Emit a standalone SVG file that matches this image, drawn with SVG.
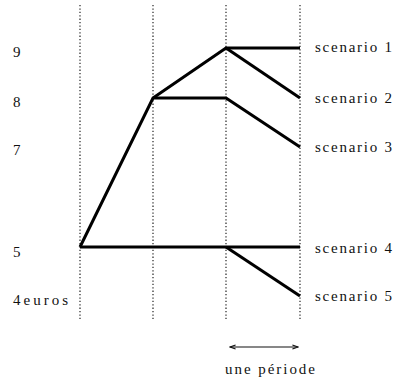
<svg xmlns="http://www.w3.org/2000/svg" width="397" height="380" viewBox="0 0 397 380">
<style>
.grid{stroke:#222;stroke-width:1.2;stroke-dasharray:1.3 2.1;fill:none}
.path{stroke:#000;stroke-width:3;fill:none;stroke-linejoin:miter;stroke-linecap:butt}
.arr{stroke:#111;stroke-width:1.2;fill:none}
.lbl{font-family:"Liberation Serif","Times New Roman","DejaVu Serif",serif;font-size:15px;fill:#111}
</style>
<defs>
<marker id="ah" viewBox="0 0 10 10" refX="9" refY="5" markerWidth="7" markerHeight="7" orient="auto-start-reverse" markerUnits="userSpaceOnUse">
<path d="M1,2 L9,5 L1,8" fill="none" stroke="#111" stroke-width="1.5"/>
</marker>
</defs>
<g id="grid">
<line class="grid" x1="80" y1="5" x2="80" y2="319"/>
<line class="grid" x1="153" y1="5" x2="153" y2="319"/>
<line class="grid" x1="226" y1="5" x2="226" y2="319"/>
<line class="grid" x1="300" y1="5" x2="300" y2="319"/>
</g>
<g id="axis-labels">
<text class="lbl" x="13" y="57">9</text>
<text class="lbl" x="13" y="107">8</text>
<text class="lbl" x="13" y="155">7</text>
<text class="lbl" x="13" y="257">5</text>
<text class="lbl" x="13" y="305" textLength="55" lengthAdjust="spacing">4euros</text>
</g>
<g id="scenario1"><text class="lbl" x="315" y="52" textLength="77" lengthAdjust="spacing">scenario 1</text></g>
<g id="scenario2"><text class="lbl" x="315" y="103" textLength="77" lengthAdjust="spacing">scenario 2</text></g>
<g id="scenario3"><text class="lbl" x="315" y="152" textLength="77" lengthAdjust="spacing">scenario 3</text></g>
<g id="scenario4"><text class="lbl" x="315" y="253" textLength="77" lengthAdjust="spacing">scenario 4</text></g>
<g id="scenario5"><text class="lbl" x="315" y="301" textLength="77" lengthAdjust="spacing">scenario 5</text></g>
<g id="periode">
<line class="arr" x1="230" y1="347" x2="298" y2="347" marker-start="url(#ah)" marker-end="url(#ah)"/>
<text class="lbl" x="225" y="374" textLength="90" lengthAdjust="spacing">une période</text>
</g>
<g id="connectors">
<polyline class="path" points="80,247 153,98 226,48 300,48"/>
<line class="path" x1="226" y1="48" x2="300" y2="98"/>
<polyline class="path" points="153,98 226,98 300,147"/>
<line class="path" x1="80" y1="247" x2="300" y2="247"/>
<line class="path" x1="226" y1="247" x2="300" y2="296"/>
</g>
</svg>
